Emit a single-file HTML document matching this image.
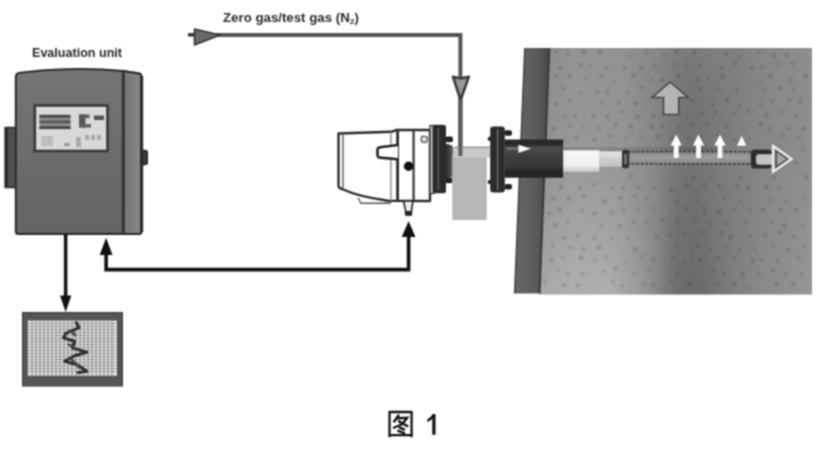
<!DOCTYPE html>
<html><head><meta charset="utf-8">
<style>
html,body{margin:0;padding:0;background:#fff;}
body{width:824px;height:449px;overflow:hidden;font-family:"Liberation Sans",sans-serif;}
svg{display:block;}
text{font-family:"Liberation Sans",sans-serif;}
</style></head><body>
<svg width="824" height="449" viewBox="0 0 824 449">
<defs>
<filter id="bl" filterUnits="userSpaceOnUse" x="0" y="0" width="824" height="449" color-interpolation-filters="sRGB"><feConvolveMatrix order="3" kernelMatrix="1 2 1 2 4 2 1 2 1" divisor="16" edgeMode="duplicate" preserveAlpha="false"/></filter>
<filter id="bl2" x="-5%" y="-5%" width="110%" height="110%"><feGaussianBlur stdDeviation="0.9"/></filter>
<linearGradient id="duct" gradientUnits="userSpaceOnUse" x1="540" x2="812" y1="0" y2="0">
<stop offset="0" stop-color="#8a8a8a"/><stop offset="0.12" stop-color="#949494"/><stop offset="0.3" stop-color="#929292"/><stop offset="0.42" stop-color="#878787"/><stop offset="0.5" stop-color="#777"/><stop offset="0.56" stop-color="#727272"/><stop offset="0.66" stop-color="#7b7b7b"/><stop offset="0.8" stop-color="#858585"/><stop offset="1" stop-color="#8e8e8e"/>
</linearGradient>
<linearGradient id="ductv" x1="0" x2="0" y1="0" y2="1">
<stop offset="0" stop-color="#fff" stop-opacity="0"/><stop offset="0.45" stop-color="#fff" stop-opacity="0.050"/><stop offset="1" stop-color="#fff" stop-opacity="0.260"/>
</linearGradient>
<linearGradient id="ductv2" x1="0" x2="0" y1="0" y2="1">
<stop offset="0" stop-color="#fff" stop-opacity="0.060"/><stop offset="0.5" stop-color="#000" stop-opacity="0"/><stop offset="1" stop-color="#000" stop-opacity="0.070"/>
</linearGradient>
<linearGradient id="mk1" gradientUnits="userSpaceOnUse" x1="540" x2="812" y1="0" y2="0">
<stop offset="0" stop-color="#fff"/><stop offset="0.25" stop-color="#fff"/><stop offset="0.47" stop-color="#000"/><stop offset="0.7" stop-color="#000"/><stop offset="1" stop-color="#444"/>
</linearGradient>
<linearGradient id="mk2" gradientUnits="userSpaceOnUse" x1="540" x2="812" y1="0" y2="0">
<stop offset="0.38" stop-color="#000"/><stop offset="0.5" stop-color="#fff"/><stop offset="0.6" stop-color="#fff"/><stop offset="0.72" stop-color="#000"/>
</linearGradient>
<mask id="m1"><rect x="530" y="40" width="290" height="260" fill="url(#mk1)"/></mask>
<mask id="m2"><rect x="530" y="40" width="290" height="260" fill="url(#mk2)"/></mask>
<linearGradient id="wall" gradientUnits="userSpaceOnUse" x1="518" x2="546" y1="0" y2="0">
<stop offset="0" stop-color="#646464"/><stop offset="0.6" stop-color="#5c5c5c"/><stop offset="1" stop-color="#4c4c4c"/>
</linearGradient>
<linearGradient id="pipe" x1="0" x2="0" y1="0" y2="1">
<stop offset="0" stop-color="#262626"/><stop offset="0.14" stop-color="#2a2a2a"/><stop offset="0.2" stop-color="#4c4c4c"/><stop offset="0.34" stop-color="#464646"/><stop offset="0.45" stop-color="#3c3c3c"/><stop offset="0.72" stop-color="#383838"/><stop offset="0.8" stop-color="#282828"/><stop offset="1" stop-color="#222"/>
</linearGradient>
<linearGradient id="wh1" x1="0" x2="0" y1="0" y2="1"><stop offset="0" stop-color="#f6f6f6"/><stop offset="0.7" stop-color="#eee"/><stop offset="1" stop-color="#c4c4c4"/></linearGradient>
<linearGradient id="wh2" x1="0" x2="0" y1="0" y2="1"><stop offset="0" stop-color="#e4e4e4"/><stop offset="1" stop-color="#bcbcbc"/></linearGradient>
<linearGradient id="neck" x1="0" x2="1" y1="0" y2="0"><stop offset="0" stop-color="#2c2c2c"/><stop offset="0.5" stop-color="#444"/><stop offset="1" stop-color="#7c7c7c"/></linearGradient>
<linearGradient id="euf" x1="0" x2="0" y1="0" y2="1">
<stop offset="0" stop-color="#757575"/><stop offset="1" stop-color="#636363"/>
</linearGradient>
<linearGradient id="eus" x1="0" x2="1" y1="0" y2="0">
<stop offset="0" stop-color="#747474"/><stop offset="1" stop-color="#888"/>
</linearGradient>
</defs>
<rect width="824" height="449" fill="#fff"/>
<g filter="url(#bl)">
<rect width="824" height="449" fill="#fff"/>
<!-- labels -->
<text x="32" y="57.300" font-size="12.500" font-weight="bold" fill="#2a2a2a" textLength="90" lengthAdjust="spacingAndGlyphs">Evaluation unit</text>
<text x="223" y="22" font-size="12.300" font-weight="bold" fill="#2a2a2a" textLength="136" lengthAdjust="spacingAndGlyphs">Zero gas/test gas (N<tspan font-size="8" dy="2">2</tspan><tspan dy="-2">)</tspan></text>

<!-- evaluation unit -->
<g id="eu">
<rect x="5.300" y="127.500" width="12" height="60" fill="#505050" stroke="#2a2a2a" stroke-width="1.500"/><rect x="4.600" y="127.500" width="3.400" height="60" fill="#2c2c2c"/>
<rect x="141" y="150.500" width="6.300" height="14" rx="2.500" fill="#3a3a3a" stroke="#222" stroke-width="1.500"/>
<path d="M15.800,77.500 Q15.800,73.700 19,73.100 C45,69.200 85,67.300 123,71 L139,73.500 Q141.300,74 141.300,76.500 L141.300,231.500 Q141.300,234 138.800,234 L18.300,234 Q15.800,234 15.800,231.500 Z" fill="url(#euf)" stroke="#2b2b2b" stroke-width="2"/>
<path d="M123,71 L139,73.500 Q141.300,74 141.300,76.500 L141.300,231.500 Q141.300,234 138.800,234 L123,234 Z" fill="url(#eus)" stroke="#2b2b2b" stroke-width="2"/>
<path d="M123.300,71 V234" stroke="#333" stroke-width="3"/><path d="M141.600,76 V232" stroke="#2b2b2b" stroke-width="3.200"/>
<rect x="34.800" y="105.500" width="72.700" height="45.500" fill="#d9d9d9" stroke="#383838" stroke-width="2.600"/>
<rect x="39.500" y="115" width="31" height="14" fill="#8a8a8a"/>
<rect x="39.500" y="114.800" width="31" height="2.800" fill="#444"/>
<rect x="39.500" y="120.600" width="31" height="2.600" fill="#555"/>
<rect x="39.500" y="126.300" width="31" height="2.800" fill="#444"/>
<rect x="79" y="114.500" width="6.500" height="13" fill="#555"/>
<rect x="79" y="114.500" width="10.500" height="3.600" fill="#5a5a5a"/>
<rect x="79" y="124" width="12" height="3.600" fill="#606060"/>
<rect x="94" y="115.500" width="10" height="4.500" fill="#555"/>
<rect x="41" y="136" width="12" height="10" fill="#bdbdbd"/>
<rect x="64" y="143" width="6" height="3" fill="#999"/>
<rect x="76" y="137" width="5" height="10" fill="#aaa"/>
<rect x="85" y="135" width="4" height="5" fill="#aaa"/><rect x="91" y="135" width="4" height="5" fill="#aaa"/><rect x="97" y="135" width="4" height="5" fill="#aaa"/>
</g>

<!-- arrows from eu -->
<g fill="#111" stroke="none">
<rect x="63.900" y="234" width="3.500" height="63"/>
<path d="M60,295.500 L71.300,295.500 L65.700,312 Z"/>
<path d="M106.100,237.800 L112.500,255 L99.700,255 Z"/>
<path d="M104.300,254 L107.900,254 L107.900,267.800 L406.800,267.800 L406.800,236 L410.400,236 L410.400,271.400 L104.300,271.400 Z"/>
<path d="M408.600,221 L415.500,237 L401.700,237 Z"/>
</g>

<!-- monitor -->
<g id="mon">
<rect x="22.500" y="312.500" width="100" height="73.500" fill="#555" stroke="#3a3a3a" stroke-width="1"/>
<rect x="27.800" y="320.500" width="89.200" height="55.200" fill="#e2e2e2"/>
<path d="M32.0,320.5V375.700M36.0,320.5V375.700M40.0,320.5V375.700M44.0,320.5V375.700M48.0,320.5V375.700M52.0,320.5V375.700M56.0,320.5V375.700M60.0,320.5V375.700M64.0,320.5V375.700M68.0,320.5V375.700M72.0,320.5V375.700M76.0,320.5V375.700M80.0,320.5V375.700M84.0,320.5V375.700M88.0,320.5V375.700M92.0,320.5V375.700M96.0,320.5V375.700M100.0,320.5V375.700M104.0,320.5V375.700M108.0,320.5V375.700M112.0,320.5V375.700" stroke="#777" stroke-width="0.900" fill="none"/>
<path d="M28,323.5H117M28,326.5H117M28,329.5H117M28,332.5H117M28,335.5H117M28,338.5H117M28,341.5H117M28,344.5H117M28,347.5H117M28,350.5H117M28,353.5H117M28,356.5H117M28,359.5H117M28,362.5H117M28,365.5H117M28,368.5H117M28,371.5H117" stroke="#8a8a8a" stroke-width="0.700" fill="none"/>
<path d="M75.700,321.500 L79,327.800 L65.700,333.400 L63.500,337.900 L74.600,341.200 L72.400,347.900 L86.800,352.300 L74.600,355.700 L64.600,361.200 L76.800,364.600 L86.800,371.300 L76.800,372.800" fill="none" stroke="#2e2e2e" stroke-width="3" stroke-linejoin="round"/>
<path d="M70,330 L76,336 M68,344 L78,350 M70,358 L80,368" fill="none" stroke="#444" stroke-width="2.500"/>
</g>

<!-- gas line -->
<g fill="none" stroke="#555" stroke-width="4">
<path d="M216,34.900 L460.400,34.900 L460.400,152"/>
</g>
<path d="M453,76.800 L460.400,78.500 L468.800,76.800 L460.600,100 Z" fill="#999" stroke="#3a3a3a" stroke-width="2.600" stroke-linejoin="round"/>
<!-- plug -->
<path d="M194.500,29 L220,35 L194.500,45 Z" fill="#6a6a6a" stroke="#333" stroke-width="1.600" stroke-linejoin="round"/>
<path d="M188,34.800 H195" stroke="#333" stroke-width="3.400"/>

<!-- wall & duct -->
<path d="M549.400,48 L812,48 L812,294.500 L539.500,294.500 Z" fill="url(#duct)"/>
<path d="M549.400,48 L812,48 L812,294.500 L539.500,294.500 Z" fill="url(#ductv)" mask="url(#m1)"/>
<path d="M549.400,48 L812,48 L812,294.500 L539.500,294.500 Z" fill="url(#ductv2)" mask="url(#m2)"/>
<g fill="#000" fill-opacity="0.200" filter="url(#bl2)"><circle cx="556.6" cy="51.4" r="1.6"/><circle cx="567.9" cy="54.0" r="1.7"/><circle cx="583.5" cy="51.5" r="1.9"/><circle cx="599.4" cy="52.3" r="2.0"/><circle cx="629.8" cy="56.2" r="1.5"/><circle cx="645.8" cy="52.9" r="1.5"/><circle cx="664.6" cy="54.8" r="1.7"/><circle cx="676.4" cy="51.4" r="1.8"/><circle cx="694.5" cy="52.9" r="1.7"/><circle cx="709.1" cy="55.8" r="1.5"/><circle cx="726.5" cy="54.2" r="1.8"/><circle cx="740.0" cy="56.9" r="1.7"/><circle cx="758.8" cy="51.9" r="1.4"/><circle cx="773.7" cy="55.6" r="1.9"/><circle cx="786.7" cy="55.2" r="1.7"/><circle cx="560.2" cy="67.3" r="2.0"/><circle cx="581.0" cy="64.8" r="1.8"/><circle cx="590.9" cy="65.9" r="1.5"/><circle cx="606.7" cy="67.7" r="1.5"/><circle cx="624.5" cy="68.3" r="1.7"/><circle cx="641.1" cy="68.4" r="1.9"/><circle cx="654.7" cy="65.6" r="1.9"/><circle cx="675.0" cy="64.0" r="1.5"/><circle cx="685.4" cy="66.0" r="1.6"/><circle cx="699.3" cy="65.6" r="1.7"/><circle cx="721.4" cy="67.2" r="1.8"/><circle cx="735.0" cy="63.4" r="1.9"/><circle cx="751.9" cy="67.9" r="1.6"/><circle cx="762.0" cy="66.9" r="1.4"/><circle cx="778.2" cy="64.1" r="1.4"/><circle cx="792.3" cy="64.0" r="1.6"/><circle cx="556.3" cy="76.1" r="1.6"/><circle cx="570.0" cy="75.9" r="2.0"/><circle cx="586.3" cy="78.1" r="1.5"/><circle cx="600.9" cy="76.8" r="1.5"/><circle cx="614.2" cy="80.9" r="1.5"/><circle cx="633.3" cy="75.3" r="2.0"/><circle cx="651.0" cy="79.4" r="1.6"/><circle cx="661.7" cy="79.8" r="1.9"/><circle cx="678.3" cy="76.5" r="2.0"/><circle cx="697.5" cy="80.0" r="1.8"/><circle cx="708.6" cy="78.3" r="1.4"/><circle cx="722.7" cy="76.9" r="1.8"/><circle cx="760.4" cy="80.9" r="1.5"/><circle cx="770.6" cy="76.4" r="1.8"/><circle cx="790.8" cy="80.2" r="1.8"/><circle cx="805.6" cy="75.7" r="1.9"/><circle cx="563.1" cy="88.3" r="1.6"/><circle cx="580.9" cy="93.1" r="1.6"/><circle cx="597.4" cy="91.6" r="1.5"/><circle cx="607.3" cy="92.7" r="1.5"/><circle cx="627.5" cy="93.2" r="1.6"/><circle cx="641.1" cy="88.1" r="2.0"/><circle cx="700.7" cy="88.8" r="1.5"/><circle cx="718.9" cy="88.8" r="1.5"/><circle cx="736.6" cy="89.4" r="1.8"/><circle cx="764.8" cy="90.5" r="1.4"/><circle cx="779.8" cy="88.4" r="1.9"/><circle cx="793.5" cy="90.1" r="1.7"/><circle cx="555.9" cy="104.1" r="1.7"/><circle cx="569.2" cy="101.0" r="1.7"/><circle cx="601.6" cy="103.0" r="1.7"/><circle cx="618.8" cy="102.1" r="1.7"/><circle cx="636.1" cy="103.6" r="2.0"/><circle cx="692.0" cy="100.8" r="1.8"/><circle cx="712.5" cy="104.7" r="1.8"/><circle cx="727.1" cy="100.2" r="2.0"/><circle cx="739.5" cy="105.1" r="1.7"/><circle cx="760.4" cy="104.4" r="1.7"/><circle cx="772.6" cy="101.4" r="1.6"/><circle cx="789.6" cy="99.5" r="1.7"/><circle cx="800.1" cy="101.3" r="1.7"/><circle cx="565.3" cy="117.3" r="1.6"/><circle cx="575.5" cy="116.1" r="1.5"/><circle cx="593.7" cy="116.9" r="1.6"/><circle cx="607.3" cy="117.0" r="1.8"/><circle cx="622.4" cy="111.8" r="1.7"/><circle cx="637.8" cy="117.1" r="1.9"/><circle cx="653.3" cy="116.6" r="1.9"/><circle cx="687.6" cy="117.0" r="1.5"/><circle cx="702.9" cy="112.9" r="1.5"/><circle cx="715.1" cy="112.7" r="1.6"/><circle cx="735.6" cy="113.2" r="1.5"/><circle cx="748.2" cy="111.6" r="1.4"/><circle cx="766.4" cy="114.8" r="1.7"/><circle cx="783.3" cy="112.1" r="1.7"/><circle cx="795.7" cy="116.5" r="1.7"/><circle cx="554.4" cy="128.5" r="1.8"/><circle cx="570.3" cy="125.6" r="1.5"/><circle cx="583.5" cy="128.0" r="1.5"/><circle cx="599.1" cy="128.6" r="1.8"/><circle cx="616.0" cy="125.0" r="1.7"/><circle cx="630.6" cy="126.2" r="2.0"/><circle cx="651.8" cy="126.8" r="2.0"/><circle cx="662.7" cy="125.7" r="1.6"/><circle cx="679.3" cy="126.6" r="1.7"/><circle cx="691.5" cy="125.1" r="1.6"/><circle cx="707.3" cy="123.7" r="1.5"/><circle cx="726.6" cy="126.7" r="1.8"/><circle cx="743.0" cy="128.8" r="1.6"/><circle cx="760.4" cy="124.4" r="1.8"/><circle cx="769.3" cy="128.6" r="1.8"/><circle cx="789.6" cy="128.4" r="1.7"/><circle cx="803.5" cy="128.5" r="1.9"/><circle cx="564.5" cy="139.8" r="1.4"/><circle cx="576.2" cy="137.8" r="1.9"/><circle cx="594.7" cy="139.4" r="1.8"/><circle cx="609.7" cy="135.6" r="1.8"/><circle cx="625.3" cy="138.8" r="1.4"/><circle cx="642.4" cy="137.1" r="1.6"/><circle cx="657.9" cy="136.9" r="2.0"/><circle cx="671.7" cy="137.9" r="1.8"/><circle cx="689.1" cy="139.3" r="1.4"/><circle cx="700.3" cy="137.2" r="1.6"/><circle cx="718.7" cy="135.7" r="1.6"/><circle cx="735.0" cy="139.8" r="1.6"/><circle cx="749.4" cy="138.4" r="1.5"/><circle cx="783.3" cy="135.7" r="1.9"/><circle cx="799.0" cy="138.3" r="1.5"/><circle cx="556.1" cy="148.6" r="2.0"/><circle cx="803.0" cy="149.4" r="1.5"/><circle cx="796.2" cy="162.2" r="1.5"/><circle cx="631.3" cy="175.3" r="1.8"/><circle cx="693.4" cy="177.7" r="1.7"/><circle cx="711.4" cy="177.1" r="1.6"/><circle cx="741.1" cy="177.6" r="1.9"/><circle cx="774.0" cy="177.3" r="1.8"/><circle cx="806.5" cy="176.9" r="2.0"/><circle cx="560.8" cy="187.1" r="2.0"/><circle cx="580.3" cy="187.9" r="1.7"/><circle cx="594.6" cy="184.2" r="1.5"/><circle cx="612.7" cy="187.9" r="1.5"/><circle cx="623.5" cy="187.8" r="1.5"/><circle cx="637.7" cy="187.1" r="1.6"/><circle cx="654.3" cy="187.6" r="1.6"/><circle cx="671.5" cy="189.7" r="1.9"/><circle cx="687.1" cy="185.4" r="2.0"/><circle cx="704.2" cy="185.8" r="1.7"/><circle cx="719.5" cy="186.5" r="1.8"/><circle cx="736.7" cy="185.4" r="1.6"/><circle cx="748.7" cy="188.1" r="1.9"/><circle cx="766.4" cy="187.0" r="2.0"/><circle cx="778.9" cy="188.9" r="1.5"/><circle cx="553.6" cy="198.6" r="2.0"/><circle cx="568.5" cy="198.4" r="2.0"/><circle cx="584.0" cy="196.4" r="1.6"/><circle cx="604.8" cy="201.4" r="2.0"/><circle cx="620.5" cy="198.1" r="2.0"/><circle cx="634.7" cy="196.3" r="1.6"/><circle cx="647.6" cy="198.1" r="1.4"/><circle cx="676.9" cy="201.9" r="1.6"/><circle cx="697.3" cy="201.0" r="1.4"/><circle cx="723.9" cy="198.3" r="1.4"/><circle cx="740.9" cy="201.0" r="1.4"/><circle cx="770.8" cy="200.6" r="1.6"/><circle cx="786.4" cy="201.8" r="1.6"/><circle cx="805.0" cy="198.0" r="1.4"/><circle cx="549.5" cy="213.7" r="2.0"/><circle cx="559.9" cy="209.6" r="2.0"/><circle cx="581.9" cy="210.5" r="1.7"/><circle cx="594.2" cy="213.7" r="1.9"/><circle cx="611.4" cy="213.1" r="1.8"/><circle cx="624.0" cy="210.1" r="1.9"/><circle cx="637.8" cy="209.4" r="1.5"/><circle cx="653.2" cy="208.4" r="1.6"/><circle cx="685.6" cy="208.7" r="1.7"/><circle cx="704.2" cy="210.9" r="1.7"/><circle cx="719.1" cy="212.2" r="1.9"/><circle cx="734.9" cy="208.9" r="1.6"/><circle cx="749.7" cy="210.4" r="1.5"/><circle cx="763.0" cy="209.6" r="1.9"/><circle cx="780.8" cy="210.1" r="2.0"/><circle cx="795.8" cy="209.6" r="1.8"/><circle cx="555.3" cy="225.2" r="1.9"/><circle cx="567.8" cy="222.0" r="1.5"/><circle cx="601.1" cy="225.5" r="1.6"/><circle cx="619.4" cy="225.9" r="1.8"/><circle cx="633.8" cy="221.6" r="1.5"/><circle cx="646.4" cy="221.8" r="1.8"/><circle cx="661.9" cy="220.3" r="1.8"/><circle cx="677.3" cy="222.1" r="1.9"/><circle cx="695.3" cy="220.6" r="1.6"/><circle cx="710.9" cy="224.1" r="1.5"/><circle cx="727.4" cy="222.7" r="1.6"/><circle cx="744.7" cy="222.1" r="1.6"/><circle cx="771.5" cy="221.4" r="1.5"/><circle cx="784.5" cy="225.7" r="1.9"/><circle cx="802.8" cy="225.6" r="1.5"/><circle cx="564.2" cy="237.8" r="1.8"/><circle cx="577.8" cy="235.4" r="1.6"/><circle cx="594.4" cy="237.9" r="1.7"/><circle cx="611.9" cy="238.2" r="1.5"/><circle cx="628.4" cy="238.2" r="1.4"/><circle cx="657.1" cy="237.3" r="1.9"/><circle cx="669.8" cy="234.8" r="1.9"/><circle cx="685.0" cy="233.7" r="1.7"/><circle cx="701.9" cy="233.1" r="1.8"/><circle cx="721.0" cy="232.6" r="1.9"/><circle cx="730.5" cy="237.4" r="1.8"/><circle cx="749.6" cy="236.1" r="1.7"/><circle cx="765.3" cy="234.9" r="1.7"/><circle cx="779.8" cy="232.5" r="1.7"/><circle cx="793.9" cy="236.9" r="1.7"/><circle cx="552.7" cy="245.2" r="1.5"/><circle cx="570.6" cy="247.5" r="1.8"/><circle cx="583.6" cy="248.8" r="1.7"/><circle cx="598.9" cy="247.5" r="2.0"/><circle cx="634.6" cy="249.3" r="2.0"/><circle cx="676.5" cy="246.5" r="1.5"/><circle cx="697.8" cy="246.1" r="1.5"/><circle cx="710.5" cy="250.0" r="1.6"/><circle cx="726.0" cy="246.4" r="1.5"/><circle cx="739.1" cy="250.1" r="1.9"/><circle cx="754.7" cy="249.1" r="1.7"/><circle cx="773.5" cy="246.6" r="1.7"/><circle cx="788.6" cy="249.7" r="2.0"/><circle cx="804.4" cy="246.8" r="1.6"/><circle cx="551.2" cy="260.0" r="1.9"/><circle cx="562.8" cy="257.6" r="1.4"/><circle cx="581.0" cy="258.1" r="2.0"/><circle cx="594.9" cy="260.5" r="1.4"/><circle cx="606.5" cy="257.4" r="1.7"/><circle cx="625.3" cy="261.9" r="1.5"/><circle cx="641.8" cy="256.7" r="1.6"/><circle cx="653.5" cy="258.7" r="1.8"/><circle cx="672.4" cy="257.8" r="1.7"/><circle cx="684.7" cy="262.1" r="1.5"/><circle cx="699.9" cy="260.4" r="1.9"/><circle cx="717.6" cy="258.1" r="1.8"/><circle cx="734.2" cy="258.6" r="1.7"/><circle cx="752.3" cy="260.9" r="1.9"/><circle cx="761.6" cy="259.7" r="1.5"/><circle cx="777.2" cy="261.2" r="1.7"/><circle cx="798.8" cy="257.4" r="1.8"/><circle cx="557.7" cy="269.7" r="1.6"/><circle cx="567.8" cy="274.0" r="1.8"/><circle cx="583.0" cy="273.7" r="1.7"/><circle cx="603.7" cy="271.3" r="1.5"/><circle cx="615.6" cy="268.9" r="1.8"/><circle cx="634.4" cy="273.7" r="1.6"/><circle cx="648.9" cy="271.2" r="1.7"/><circle cx="677.5" cy="273.9" r="1.6"/><circle cx="712.2" cy="270.6" r="1.6"/><circle cx="724.2" cy="274.1" r="1.8"/><circle cx="742.7" cy="274.5" r="1.9"/><circle cx="758.4" cy="273.8" r="1.8"/><circle cx="773.0" cy="270.5" r="1.8"/><circle cx="785.0" cy="274.1" r="1.4"/><circle cx="800.7" cy="274.2" r="1.5"/><circle cx="544.5" cy="281.0" r="1.8"/><circle cx="564.6" cy="285.1" r="1.8"/><circle cx="577.8" cy="285.6" r="1.9"/><circle cx="612.9" cy="281.4" r="1.5"/><circle cx="622.0" cy="285.8" r="1.8"/><circle cx="643.0" cy="284.5" r="1.5"/><circle cx="653.4" cy="285.3" r="1.6"/><circle cx="671.2" cy="280.8" r="1.6"/><circle cx="688.8" cy="282.9" r="2.0"/><circle cx="702.8" cy="285.8" r="1.4"/><circle cx="717.6" cy="283.3" r="1.6"/><circle cx="735.2" cy="283.9" r="1.9"/><circle cx="746.4" cy="285.6" r="1.4"/><circle cx="776.8" cy="283.7" r="1.9"/><circle cx="793.5" cy="283.7" r="1.9"/></g>
<path d="M524.800,48 L549.400,48 L539.500,293.500 L514.600,293.500 Z" fill="url(#wall)"/>
<path d="M549.400,48 L539.500,293.500" stroke="#3a3a3a" stroke-width="2"/>
<path d="M524.800,48 L514.600,293.500" stroke="#444" stroke-width="1.500"/>

<!-- sensor device -->
<g id="dev">
<path d="M338.500,133.500 L391.500,131.800 L396.500,130 L430,130 L430,201 L388,200.700 Q358,196.500 342,189 Q338.500,188.300 338.500,185.500 Z" fill="#fff" stroke="#2a2a2a" stroke-width="2.400" stroke-linejoin="round"/>
<path d="M343,134.500 L343,188" stroke="#555" stroke-width="1.400"/>
<path d="M358.200,198 L361,203.300 L391,203.300" fill="none" stroke="#555" stroke-width="1.400"/>
<path d="M391,132 V200.500" stroke="#888" stroke-width="1.400"/>
<path d="M397.600,130 V201" stroke="#2a2a2a" stroke-width="2.800"/>
<path d="M413.600,130 V201" stroke="#333" stroke-width="2.200"/>
<path d="M398,145 L380,147.300 Q377.500,147.800 377.500,150 L377.500,155 Q377.500,157.300 380,157.600 L398,159.300" fill="#fff" stroke="#222" stroke-width="2.600"/>
<circle cx="408.600" cy="166.200" r="4.700" fill="#111"/>
<rect x="421.300" y="136.300" width="6" height="6" rx="1.500" fill="#ddd" stroke="#555" stroke-width="1.300"/>
<path d="M403.500,201 L413,201 L411.500,210 L411.300,215 L405.800,215 L405.500,210 Z" fill="#eee" stroke="#222" stroke-width="1.600"/>
<rect x="405.800" y="211" width="5.500" height="4.300" fill="#222"/>
</g>
<!-- flange 1 -->
<rect x="430" y="125.500" width="4" height="68" fill="#ccc" stroke="#333" stroke-width="1.200"/>
<rect x="432.500" y="124.700" width="13.500" height="68.500" rx="2.500" fill="#2a2a2a"/>
<rect x="437" y="128" width="2.500" height="62" fill="#4a4a4a"/>
<rect x="445.500" y="136.600" width="7.500" height="5.600" rx="2" fill="#222"/>
<rect x="445.500" y="177.600" width="7" height="5.600" rx="2" fill="#222"/>
<path d="M445.500,143.500 L451,145 Q454,146 454,150 L454,172 Q454,177 451,177.500 L445.500,178.500 Z" fill="url(#neck)"/>
<!-- grey box -->
<rect x="452.300" y="156" width="34.400" height="64" fill="#b6b6b6"/>
<rect x="453" y="147" width="37" height="10.500" fill="#c9c9c9"/>
<rect x="455" y="146.500" width="35" height="1.500" fill="#999"/>
<path d="M460.400,100 L460.400,156" stroke="#5a5a5a" stroke-width="4"/>
<!-- flange 2 -->
<rect x="487.800" y="136.800" width="4" height="4" rx="1.500" fill="#222"/>
<rect x="487.800" y="180" width="4" height="4" rx="1.500" fill="#222"/>
<rect x="490.200" y="126.500" width="14.600" height="66" rx="3" fill="#2a2a2a"/>
<rect x="496.800" y="129" width="1.600" height="61" fill="#6a6a6a"/>
<rect x="504.500" y="130.300" width="7.500" height="5.400" rx="2" fill="#222"/>
<rect x="504.500" y="184" width="7.500" height="5.400" rx="2" fill="#222"/>
<!-- dark pipe -->
<rect x="504.500" y="139.500" width="58.600" height="38.200" fill="url(#pipe)"/>
<path d="M507,148.500 H522" stroke="#aaa" stroke-opacity="0.600" stroke-width="1.600"/>
<path d="M518.500,144.800 L530.800,148.800 L518.500,152.800 Z" fill="#fff"/>
<!-- probe -->
<rect x="563" y="147.300" width="158" height="3.500" fill="#000" fill-opacity="0.120"/>
<rect x="563.300" y="150.300" width="36.200" height="21.600" fill="url(#wh1)"/>
<rect x="599.300" y="151.500" width="23" height="15.300" fill="url(#wh2)"/>
<rect x="628" y="151.700" width="126" height="12.100" fill="#909090" stroke="#333" stroke-width="1.600" stroke-dasharray="3 1.600"/>
<rect x="630" y="155.500" width="122" height="4" fill="#fff" fill-opacity="0.100"/>
<rect x="622" y="149.800" width="7.200" height="18.500" rx="2.500" fill="#333"/>
<rect x="624.300" y="154" width="2.600" height="10" fill="#777"/>
<rect x="750.800" y="149.600" width="21" height="19" rx="4" fill="#2e2e2e"/>
<path d="M759,154.200 L772,154.200 L772,164.800 L759,164.800 Q756,164.800 756,161.800 L756,157.200 Q756,154.200 759,154.200 Z" fill="#c4c4c4"/>
<path d="M773,146 L791.500,159 L773,172 Z" fill="#9a9a9a" stroke="#f0f0f0" stroke-width="2.200" stroke-linejoin="miter"/>
<path d="M776.300,151 L787.600,159 L776.300,167 Z" fill="#a4a4a4" stroke="#444" stroke-width="1.400"/>
<!-- white arrows -->
<g fill="#fff">
<path d="M676.2,134.500 L681.8,145.600 L678.6,145.600 L678.6,158 L673.8,158 L673.8,145.600 L670.6,145.600 Z"/><path d="M698.5,134.500 L704.1,145.600 L700.9,145.600 L700.9,158 L696.1,158 L696.1,145.600 L692.9,145.600 Z"/><path d="M720.0,134.500 L725.6,145.600 L722.4,145.600 L722.4,158 L717.6,158 L717.6,145.600 L714.4,145.600 Z"/>
<path d="M741.700,135.800 L746.300,145.800 L737.100,145.800 Z"/>
</g>
<!-- big arrow -->
<path d="M670.200,82 L688,97.500 L678.700,97.500 L678.700,114.500 L663.500,114.500 L663.500,97.500 L652,97.500 Z" fill="#b4b4b4" stroke="#444" stroke-width="1.600" stroke-linejoin="miter"/>

<!-- caption -->
<g fill="none" stroke="#111" stroke-width="2.300">
<path d="M389.500,411 V437.300 M389.500,412 H411.600 M411.600,411 V437.300 M389.500,435.100 H411.600"/>
<path d="M399,414.800 L393.600,422.300 M397.500,418.200 L407.300,417.700 Q404,423 400.500,425 L393,428 M398.200,420.800 Q403,424.500 408.300,426.400 M399,427.500 L405,429.600 M397.400,430.700 L405,433.400" stroke-width="2.400"/>
</g>
<path d="M432.700,414 L435.500,414 L435.500,434.700 L432.300,434.700 L432.300,418.800 Q430,421 427.300,422 L427.300,419.200 Q431.200,417.300 432.700,414 Z" fill="#111"/>
</g>
</svg>
</body></html>
